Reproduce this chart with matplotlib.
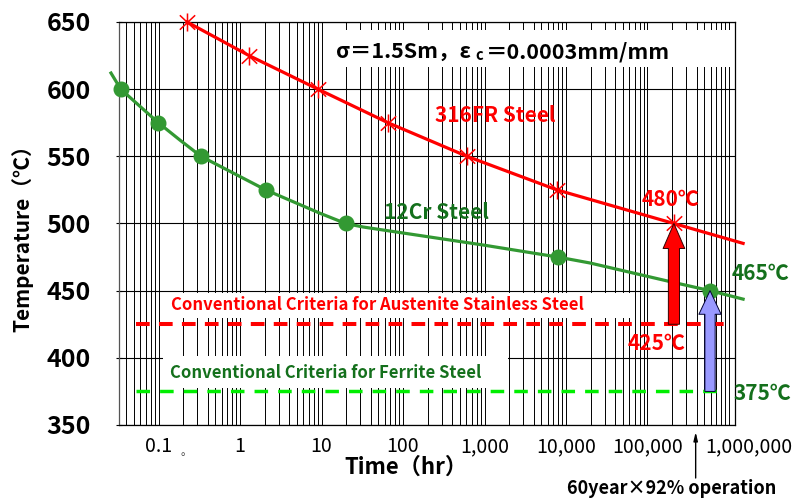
import matplotlib
matplotlib.use("Agg")
import matplotlib.pyplot as plt
from matplotlib.path import Path
from matplotlib.patches import Rectangle
from matplotlib.ticker import LogLocator, NullFormatter
import matplotlib.transforms as mtransforms

plt.rcParams['font.family'] = ['Noto Sans CJK JP', 'DejaVu Sans']

# ---------------- data ----------------
red_time = [0.224, 1.29, 9.06, 65.5, 610, 7760, 2.11e5]
red_temp = [650, 625, 600, 575, 550, 525, 500]
red_curve_time = [0.224, 1.29, 9.06, 65.5, 610, 7760, 2.11e5, 1.49e6]
red_curve_temp = [650, 625, 600, 575, 550, 525, 500, 485.2]

green_time = [0.0344, 0.0995, 0.332, 2.07, 19.8, 7980, 5.85e5]
green_temp = [600, 575, 550, 525, 500, 475, 450]
green_curve_time = [0.0261, 0.0344, 0.0995, 0.184, 0.332, 2.07, 9.6, 19.8,
                    32.3, 959, 7980, 1.97e4, 2.0e5, 5.85e5, 1.49e6]
green_curve_temp = [612, 600, 575, 562, 550, 525, 507.6, 500,
                    497.4, 484, 475, 470.6, 456.4, 450, 443.7]

austenite_criterion = 425
ferrite_criterion = 375
operation_time = 3.9e5

x_ticks = [0.1, 1, 10, 100, 1000, 10000, 100000, 1000000]
x_tick_labels = ['0.1', '1', '10', '100', '1,000', '10,000', '100,000', '1,000,000']
y_ticks = [350, 400, 450, 500, 550, 600, 650]

# ---------------- layout helpers ----------------
W, H = 800, 501
AX_L, AX_R, AX_T, AX_B = 119, 735, 22, 425


def fpos(px, py):
    return px / W, 1 - py / H


def apos(px, py):
    return (px - AX_L) / (AX_R - AX_L), (AX_B - py) / (AX_B - AX_T)


RED = '#ff0000'
GREEN_LINE = '#339933'
GREEN_TEXT = '#14701c'
LIME = '#00ee00'

fig = plt.figure(figsize=(W / 100, H / 100), dpi=100)
ax = fig.add_axes([AX_L / W, 1 - AX_B / H, (AX_R - AX_L) / W, (AX_B - AX_T) / H])

ax.set_xscale('log')
ax.set_xlim(0.03273, 1.185e6)
ax.set_ylim(350, 650)

ax.xaxis.set_minor_locator(LogLocator(base=10, subs=range(2, 10), numticks=50))
ax.xaxis.set_minor_formatter(NullFormatter())
ax.set_xticks(x_ticks)
ax.set_xticklabels(x_tick_labels)
ax.set_yticks(y_ticks)

ax.grid(True, which='both', axis='x', color='black', lw=0.7)
ax.grid(True, which='major', axis='y', color='black', lw=0.8)
ax.tick_params(axis='x', which='both', length=0, pad=8, labelsize=14)
ax.tick_params(axis='y', direction='inout', length=5, width=0.8, pad=18,
               labelsize=18, colors='black')
for lbl in ax.get_yticklabels():
    lbl.set_fontweight('bold')
for s in ax.spines.values():
    s.set_linewidth(0.9)
ax.spines['left'].set_color('#555555')

# shift last x label to the right, as in the reference
last = ax.get_xticklabels()[-1]
last.set_transform(last.get_transform() + mtransforms.ScaledTranslation(20 / 100, 0, fig.dpi_scale_trans))

# white boxes
for (x0, y0, x1, y1) in [(333, 30, 733, 67), (163, 293, 632, 318), (163, 356, 508, 388)]:
    ax0, ay1 = apos(x0, y0)
    ax1, ay0 = apos(x1, y1)
    ax.add_patch(Rectangle((ax0, ay0), ax1 - ax0, ay1 - ay0, transform=ax.transAxes,
                           facecolor='white', edgecolor='none', zorder=1.8))

# criteria dashed lines
xmin, _ = apos(136, 0)
xmax, _ = apos(725, 0)
ax.axhline(austenite_criterion, xmin=xmin, xmax=xmax, color=RED, lw=2.9,
           dashes=(3.4, 2.3), zorder=2)
ax.axhline(ferrite_criterion, xmin=xmin, xmax=xmax, color=LIME, lw=2.5,
           dashes=(3.9, 2.9), zorder=2)

# curves
ax.plot(red_curve_time, red_curve_temp, color=RED, lw=2.3, clip_on=False, zorder=3,
        solid_joinstyle='round')
ax.plot(green_curve_time, green_curve_temp, color=GREEN_LINE, lw=2.3, clip_on=False,
        zorder=3, solid_joinstyle='round')

star = Path([(0, -1), (0, 1), (-0.85, -0.8), (0.85, 0.8), (-0.85, 0.8), (0.85, -0.8)],
            [Path.MOVETO, Path.LINETO, Path.MOVETO, Path.LINETO, Path.MOVETO, Path.LINETO])
ax.plot(red_time, red_temp, ls='none', marker=star, ms=13, mew=1.1, color=RED,
        clip_on=False, zorder=4)
ax.plot(green_time, green_temp, ls='none', marker='o', ms=10.5, color=GREEN_LINE,
        mec=GREEN_LINE, clip_on=False, zorder=4)

# arrows
ax.annotate('', xy=(red_time[-1], red_temp[-1]), xytext=(red_time[-1], austenite_criterion),
            arrowprops=dict(arrowstyle='simple,head_length=0.9,head_width=0.78,tail_width=0.4',
                            mutation_scale=20, fc=RED, ec='#330000', lw=0.7,
                            shrinkA=0, shrinkB=0), zorder=5)
ax.annotate('', xy=(green_time[-1], green_temp[-1]), xytext=(green_time[-1], ferrite_criterion),
            arrowprops=dict(arrowstyle='simple,head_length=0.85,head_width=0.8,tail_width=0.37',
                            mutation_scale=20, fc='#9999ff', ec='#000033', lw=0.7,
                            shrinkA=0, shrinkB=0), zorder=5)

# operation arrow below the axis
ax.annotate('', xy=(operation_time, apos(0, 432)[1]), xycoords=('data', 'axes fraction'),
            xytext=(operation_time, apos(0, 478)[1]), textcoords=('data', 'axes fraction'),
            arrowprops=dict(arrowstyle='-|>,head_length=0.5,head_width=0.12',
                            color='black', lw=1.0, shrinkA=0, shrinkB=0),
            annotation_clip=False)

# ---------------- texts ----------------
def ftext(px, py, s, **kw):
    x, y = fpos(px, py)
    return fig.text(x, y, s, ha=kw.pop('ha', 'center'), va=kw.pop('va', 'center'), **kw)


ftext(495, 115, '316FR Steel', color=RED, fontsize=15, fontweight='bold')
ftext(436, 212, '12Cr Steel', color=GREEN_TEXT, fontsize=15, fontweight='bold')
ftext(671, 199, '480℃', color=RED, fontsize=15, fontweight='bold')
ftext(761, 273, '465℃', color=GREEN_TEXT, fontsize=15, fontweight='bold')
ftext(657, 344, '425℃', color=RED, fontsize=15, fontweight='bold')
ftext(762, 394, '375℃', color=GREEN_TEXT, fontsize=15, fontweight='bold')
ftext(377, 305, 'Conventional Criteria for Austenite Stainless Steel', color=RED,
      fontsize=12, fontweight='bold')
ftext(326, 373, 'Conventional Criteria for Ferrite Steel', color=GREEN_TEXT,
      fontsize=12, fontweight='bold')
ftext(406, 467, 'Time（hr）', color='black', fontsize=16, fontweight='bold')
ftext(22, 233, 'Temperature（℃）', color='black', fontsize=15, fontweight='bold',
      rotation=90)
ftext(672, 488, '60year×92% operation', color='black', fontsize=13, fontweight='bold')
ftext(186, 452, '。', color='#444444', fontsize=8)

# condition text with subscript
t1 = ftext(336, 58, 'σ＝1.5Sm，ε', color='black', fontsize=15.5, fontweight='bold',
           ha='left', va='baseline')
t2 = ax.annotate('c', xy=(1, 0), xycoords=t1, xytext=(3, -1), textcoords='offset points',
                 fontsize=10.5, fontweight='bold', ha='left', va='bottom')
t3 = ax.annotate('＝0.0003mm/mm', xy=(1, 0), xycoords=(t2, t1), xytext=(2, 0),
                 textcoords='offset points', fontsize=15.5, fontweight='bold',
                 ha='left', va='bottom')

fig.savefig('out.png', dpi=100)
